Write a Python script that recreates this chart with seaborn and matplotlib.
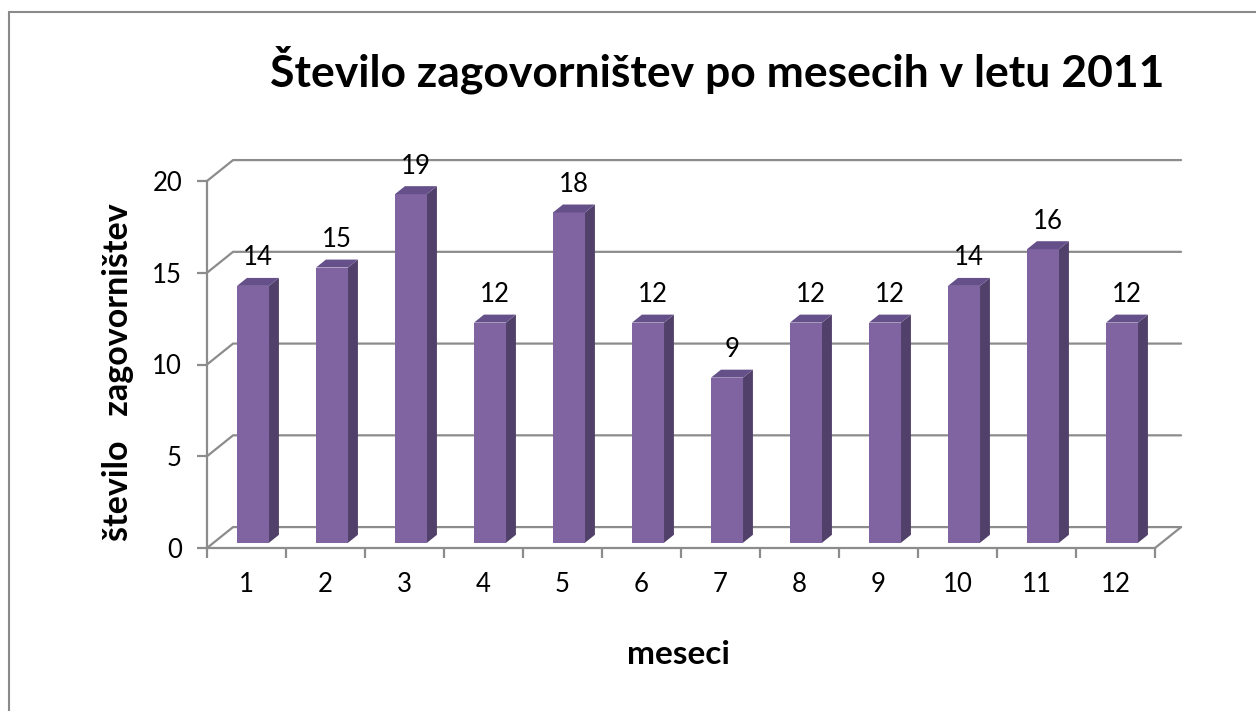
import numpy as np
import pandas as pd
import matplotlib
matplotlib.use("Agg")
import matplotlib.pyplot as plt
from matplotlib.patches import Polygon, Rectangle
import seaborn as sns

sns.set_theme(style="white")
plt.rcParams['font.family'] = ['Lato', 'DejaVu Sans']

# podatki
meseci = [1, 2, 3, 4, 5, 6, 7, 8, 9, 10, 11, 12]
zagovornistva = [14, 15, 19, 12, 18, 12, 9, 12, 12, 14, 16, 12]
y_ticks = [0, 5, 10, 15, 20]

df = pd.DataFrame({'mesec': meseci, 'stevilo': zagovornistva})

W, H = 1256, 711
fig = plt.figure(figsize=(W / 100, H / 100), dpi=100)
# front axis box in pixels: x 207..1155, y 548 (0) .. 181 (20)
ax = fig.add_axes([207 / W, (H - 548) / H, (1155 - 207) / W, (548 - 181) / H])
ax.set_xlim(-0.5, len(meseci) - 0.5)
ax.set_ylim(0, 20)

grey = '#8c8c8c'
front = '#8064a2'
side = '#514069'
top = '#65508a'

# depth of the 3d box (data units) and the bar slab within it
dx, dy = 0.33, 1.14
f, g = 0.25, 0.38
bw = 0.405

# back wall gridlines + oblique connectors
x0, x1 = -0.5, len(meseci) - 0.5
for v in y_ticks:
    ax.plot([x0, x0 + dx, x1 + dx], [v, v + dy, v + dy], color=grey, lw=1.6,
            clip_on=False, zorder=1, solid_joinstyle='miter')
ax.plot([x1, x1 + dx], [0, dy], color=grey, lw=1.6, clip_on=False, zorder=1)

sns.barplot(data=df, x='mesec', y='stevilo', color=front, saturation=1,
            width=bw, ax=ax, zorder=3, linewidth=0)

for p, v in zip(ax.patches, zagovornistva):
    p.set_x(p.get_x() + f * dx)
    p.set_y(f * dy)
    p.set_clip_on(False)
    bx0 = p.get_x()
    bx1 = bx0 + p.get_width()
    by0 = p.get_y()
    by1 = by0 + p.get_height()
    ox, oy = g * dx, g * dy
    ax.add_patch(Polygon([(bx1, by0), (bx1 + ox, by0 + oy), (bx1 + ox, by1 + oy), (bx1, by1)],
                         closed=True, facecolor=side, edgecolor='none', zorder=3, clip_on=False))
    ax.add_patch(Polygon([(bx0, by1), (bx1, by1), (bx1 + ox, by1 + oy), (bx0 + ox, by1 + oy)],
                         closed=True, facecolor=top, edgecolor='none', zorder=3, clip_on=False))
    ax.text((bx0 + bx1) / 2 + ox / 2, by1 + 1.53, str(v), ha='center', va='center',
            fontsize=18.5, color='black', clip_on=False)

# axes, ticks
for s in ['top', 'right']:
    ax.spines[s].set_visible(False)
for s in ['left', 'bottom']:
    ax.spines[s].set_color(grey)
    ax.spines[s].set_linewidth(1.6)
    ax.spines[s].set_zorder(4)
ax.set_yticks(y_ticks)
ax.set_xticks(range(len(meseci)))
ax.set_xticklabels([str(m) for m in meseci])
ax.set_xticks(np.arange(-0.5, len(meseci), 1.0), minor=True)
ax.tick_params(axis='y', which='major', length=7, width=1.6, color=grey, direction='out',
               left=True, pad=11, labelsize=18.5, labelcolor='black')
ax.tick_params(axis='x', which='major', length=0, pad=17, labelsize=18.5, labelcolor='black')
ax.tick_params(axis='x', which='minor', length=7, width=1.6, color=grey, direction='out', bottom=True)
ax.set_xlabel('')
ax.set_ylabel('')
ax.grid(False)
ax.patch.set_alpha(0)

fig.text(717 / W, 1 - 87 / H, 'Število zagovorništev po mesecih v letu 2011',
         ha='center', va='baseline', fontsize=32, fontweight='bold', color='black')
fig.text(118 / W, 1 - 372 / H, 'število   zagovorništev', rotation=90,
         ha='center', va='center', fontsize=24.5, fontweight='bold', color='black')
fig.text(678 / W, 1 - 655 / H, 'meseci', ha='center', va='center',
         fontsize=24, fontweight='bold', color='black')

# chart border
fig.add_artist(Rectangle((9 / W, -0.05), 1.2, 1 - 12 / H + 0.05, transform=fig.transFigure,
                         fill=False, edgecolor='#8a8a8a', lw=1.5))

fig.savefig('out.png', dpi=100)
